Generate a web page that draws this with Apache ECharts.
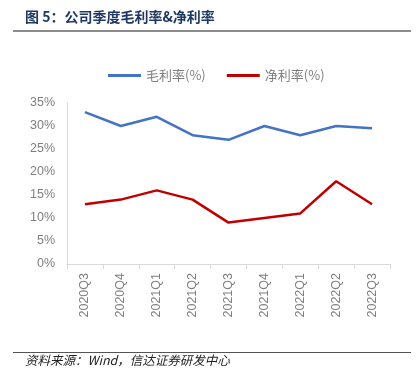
<!DOCTYPE html>
<html><head><meta charset="utf-8">
<script src="https://cdn.jsdelivr.net/npm/echarts@6/dist/echarts.min.js"></script>
<style>html,body{margin:0;padding:0;background:#fff}#c{width:418px;height:385px}</style>
</head><body><div id="c"></div>
<script>
const categories = ['2020Q3','2020Q4','2021Q1','2021Q2','2021Q3','2021Q4','2022Q1','2022Q2','2022Q3'];
const grossMargin = [33, 30, 32, 28, 27, 30, 28, 30, 29.5];
const netMargin = [13, 14, 16, 14, 9, 10, 11, 18, 13];
const yTicks = [0, 5, 10, 15, 20, 25, 30, 35];
const seriesNames = ['毛利率(%)', '净利率(%)'];
const titleText = '图 5：公司季度毛利率&净利率';
const sourceText = '资料来源：Wind，信达证券研发中心';

const chart = echarts.init(document.getElementById('c'), null, {renderer: 'canvas'});
const cjk = '"Noto Sans CJK SC", "Noto Sans", sans-serif';
chart.setOption({
  animation: false,
  textStyle: {fontFamily: cjk},
  graphic: [
    {type: 'text', left: 25, top: 10, style: {text: titleText, font: 'bold 14px ' + cjk, fill: '#1F3864'}},
    {type: 'line', shape: {x1: 13, y1: 31, x2: 411, y2: 31}, style: {stroke: '#8c8c8c', lineWidth: 2}},
    {type: 'line', shape: {x1: 13, y1: 352.5, x2: 411, y2: 352.5}, style: {stroke: '#555', lineWidth: 1}},
    {type: 'text', left: 25, top: 354, style: {text: sourceText, font: 'italic 12.5px ' + cjk, fill: '#222'}}
  ],
  legend: {
    top: 64, left: 103,
    itemWidth: 33, itemHeight: 3, itemGap: 21,
    icon: 'rect',
    textStyle: {color: '#7f7f7f', fontSize: 13, fontFamily: cjk},
    data: seriesNames
  },
  grid: {left: 67, right: 28, top: 103, bottom: 121, containLabel: false},
  xAxis: {
    type: 'category', data: categories, boundaryGap: true,
    axisLine: {lineStyle: {color: '#d9d9d9'}},
    axisTick: {show: true, length: 5, lineStyle: {color: '#d9d9d9'}},
    axisLabel: {rotate: 90, color: '#7f7f7f', fontSize: 12.5, margin: 9, fontFamily: 'Liberation Sans, sans-serif'}
  },
  yAxis: {
    type: 'value', min: yTicks[0], max: yTicks[yTicks.length - 1], interval: 5,
    axisLine: {show: true, lineStyle: {color: '#d9d9d9'}},
    axisTick: {show: false},
    splitLine: {show: false},
    axisLabel: {color: '#7f7f7f', fontSize: 12.5, margin: 12, formatter: '{value}%', fontFamily: 'Liberation Sans, sans-serif'}
  },
  series: [
    {name: seriesNames[0], type: 'line', data: grossMargin, symbol: 'none', lineStyle: {color: '#4472C4', width: 2.5}, itemStyle: {color: '#4472C4'}},
    {name: seriesNames[1], type: 'line', data: netMargin, symbol: 'none', lineStyle: {color: '#C00000', width: 2.5}, itemStyle: {color: '#C00000'}}
  ]
});
</script></body></html>
